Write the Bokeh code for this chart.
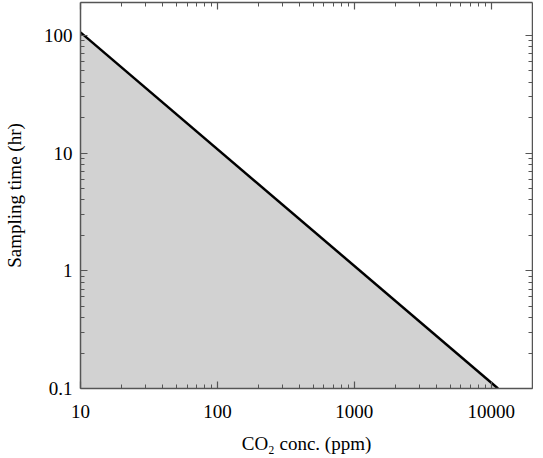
from bokeh.plotting import figure
from bokeh.models import LogAxis, FixedTicker, Range1d
from bokeh.embed import file_html
from bokeh.resources import INLINE

# Data
conc_ppm = [10, 11200]          # CO2 concentration (ppm)
sampling_hr = [106, 0.1]        # sampling time (hr)

x_major = [10, 100, 1000, 10000]
x_labels = ["10", "100", "1000", "10000"]
y_major = [0.1, 1, 10, 100]
y_labels = ["0.1", "1", "10", "100"]

x_min, x_max = 10, 20000
y_min, y_max = 0.1, 190

def minors(majors, lo, hi):
    out = []
    for m in [majors[0] / 10] + majors:
        for k in range(2, 10):
            v = m * k
            if lo < v < hi:
                out.append(v)
    return out

x_minor = minors(x_major, x_min, x_max)
y_minor = minors(y_major, y_min, y_max)

FONT = "Liberation Serif"
AXIS_COLOR = "#555555"

p = figure(frame_width=452, frame_height=386, x_axis_type="log", y_axis_type="log",
           x_range=Range1d(x_min, x_max), y_range=Range1d(y_min, y_max),
           output_backend="svg", toolbar_location=None,
           min_border_left=77, min_border_right=1, min_border_top=2, min_border_bottom=0)
p.outline_line_color = None
p.grid.visible = False
p.background_fill_color = "white"

# shaded region under the line
p.patch(x=conc_ppm + [conc_ppm[0]], y=sampling_hr + [y_min],
        fill_color="#d2d2d2", line_color=None)
p.line(conc_ppm, sampling_hr, line_color="black", line_width=2.5)

xt = FixedTicker(ticks=x_major, minor_ticks=x_minor)
yt = FixedTicker(ticks=y_major, minor_ticks=y_minor)

def style(ax, show_labels):
    ax.axis_line_color = AXIS_COLOR
    ax.axis_line_width = 1.5
    ax.major_tick_in = 7
    ax.major_tick_out = 0
    ax.minor_tick_in = 4
    ax.minor_tick_out = 0
    ax.major_tick_line_color = AXIS_COLOR
    ax.minor_tick_line_color = AXIS_COLOR
    ax.major_tick_line_width = 1.2
    ax.minor_tick_line_width = 1
    ax.major_label_text_font = FONT
    ax.major_label_text_font_size = "19px"
    ax.major_label_text_color = "black" if show_labels else None
    ax.axis_label_text_font = FONT
    ax.axis_label_text_font_size = "19px"
    ax.axis_label_text_font_style = "normal"
    ax.axis_label_text_color = "black"

xa = p.xaxis[0]
xa.ticker = xt
xa.major_label_overrides = dict(zip(x_major, x_labels))
xa.axis_label = "CO\u2082 conc. (ppm)"
style(xa, True)
xa.major_label_standoff = 16
xa.axis_label_standoff = 12

ya = p.yaxis[0]
ya.ticker = yt
ya.major_label_overrides = dict(zip(y_major, y_labels))
ya.axis_label = "Sampling time (hr)"
style(ya, True)
ya.major_label_standoff = 8
ya.axis_label_standoff = 16

top = LogAxis(ticker=xt)
style(top, False)
top.major_label_text_font_size = "0px"
top.major_label_standoff = 0
p.add_layout(top, "above")

right = LogAxis(ticker=yt)
style(right, False)
right.major_label_text_font_size = "0px"
right.major_label_standoff = 0
p.add_layout(right, "right")

open("out.html", "w").write(file_html(p, INLINE))
